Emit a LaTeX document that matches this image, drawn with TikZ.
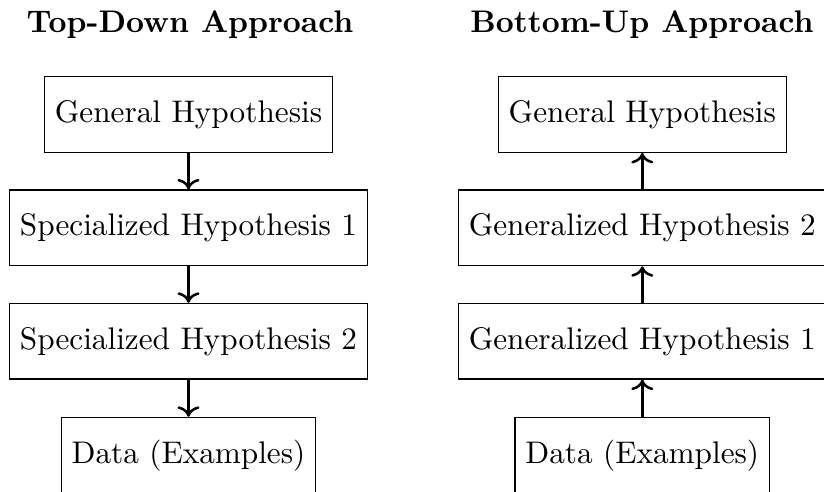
\documentclass[tikz,border=0pt]{standalone}
\usetikzlibrary{arrows.meta}
\begin{document}
\begin{tikzpicture}[x=0.32pt,y=-0.32pt,
  box/.style={draw,thin,inner xsep=3.33pt,minimum height=24.2pt},
  ttl/.style={font=\bfseries,anchor=base},
  arr/.style={thick,->}]
\useasboundingbox (0,0) rectangle (824,491);
\clip (0,0) rectangle (824,491);
% titles
\node[ttl] (t1) at (190,32.7) {Top-Down Approach};
\node[ttl] (t2) at (642,32.7) {Bottom-Up Approach};
% left column
\node[box] (l1) at (188.5,114.5) {General Hypothesis};
\node[box] (l2) at (188.5,227.8) {Specialized Hypothesis 1};
\node[box] (l3) at (188.5,341.2) {Specialized Hypothesis 2};
\node[box] (l4) at (188.5,455.2) {Data (Examples)};
\draw[arr] (l1) -- (l2);
\draw[arr] (l2) -- (l3);
\draw[arr] (l3) -- (l4);
% right column
\node[box] (r1) at (642.3,114.5) {General Hypothesis};
\node[box] (r2) at (642.3,227.8) {Generalized Hypothesis 2};
\node[box] (r3) at (642.3,341.2) {Generalized Hypothesis 1};
\node[box] (r4) at (642.3,455.2) {Data (Examples)};
\draw[arr] (r4) -- (r3);
\draw[arr] (r3) -- (r2);
\draw[arr] (r2) -- (r1);
\end{tikzpicture}
\end{document}
